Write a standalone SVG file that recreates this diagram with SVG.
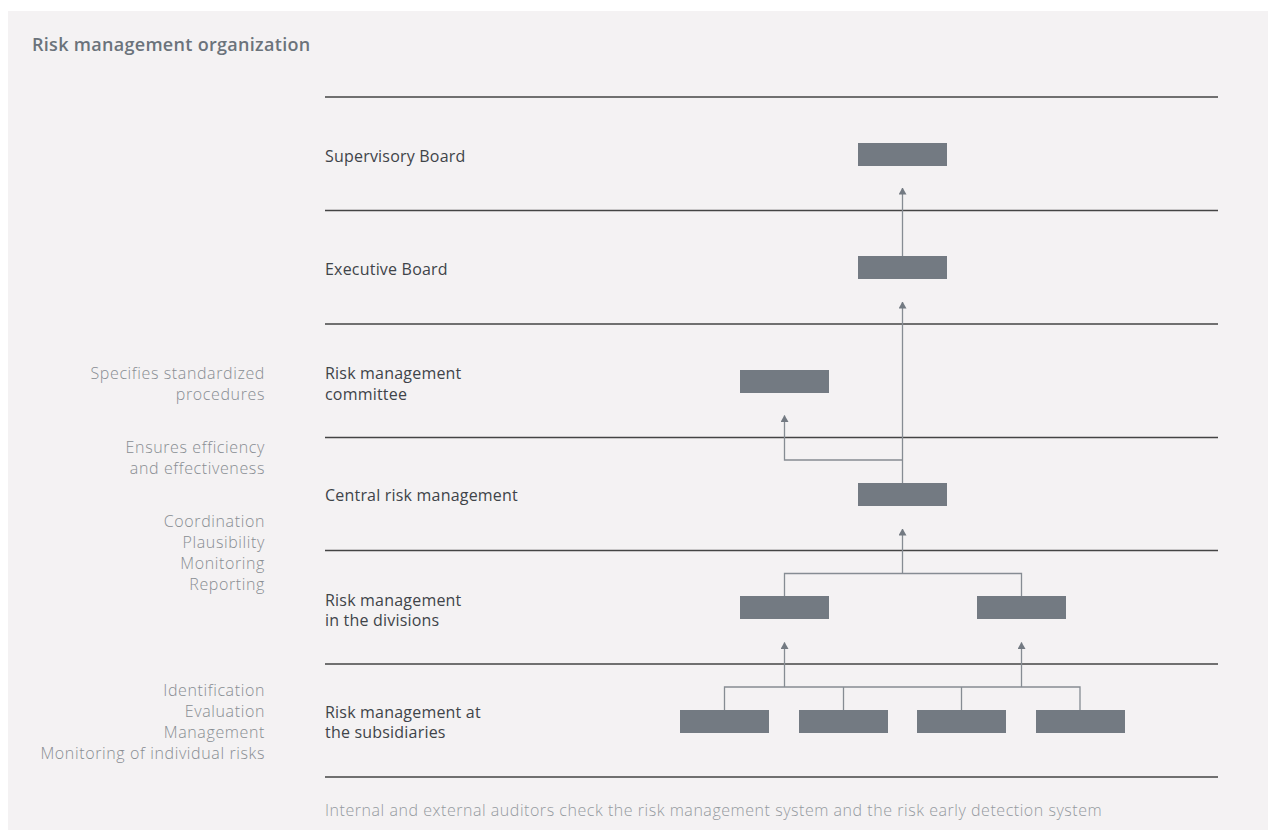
<svg xmlns="http://www.w3.org/2000/svg" width="1268" height="830" viewBox="0 0 1268 830">
<defs>
<marker id="ah" viewBox="0 0 7 8" refX="6.5" refY="4" markerWidth="7" markerHeight="8" markerUnits="userSpaceOnUse" orient="auto">
<path d="M0,0 L7,4 L0,8 Z" fill="#737a82"/>
</marker>
<style>
.title{font-family:"Open Sans","Noto Sans",sans-serif;font-size:18px;font-weight:600;fill:#6b737b;letter-spacing:0.3px}
.lbl{font-family:"Open Sans","Noto Sans",sans-serif;font-size:16px;font-weight:400;fill:#3f4449;letter-spacing:0.2px}
.side{font-family:"Open Sans","Noto Sans",sans-serif;font-size:16px;font-weight:300;fill:#888d92;text-anchor:end;letter-spacing:0.62px}
.foot{font-family:"Open Sans","Noto Sans",sans-serif;font-size:16px;font-weight:300;fill:#949a9f;letter-spacing:0.54px}
.sep{stroke:#444;stroke-width:1.3;fill:none}
.box{fill:#737a82}
.con{stroke:#868c93;stroke-width:1.3;fill:none}
.arr{stroke:#868c93;stroke-width:1.3;fill:none;marker-end:url(#ah)}
</style>
</defs>
<rect x="8" y="11" width="1260" height="819" fill="#f4f2f3"/>
<text class="title" x="32" y="51">Risk management organization</text>
<g id="separators">
<line class="sep" x1="325" y1="97" x2="1218" y2="97"/>
<line class="sep" x1="325" y1="210.5" x2="1218" y2="210.5"/>
<line class="sep" x1="325" y1="324" x2="1218" y2="324"/>
<line class="sep" x1="325" y1="437.5" x2="1218" y2="437.5"/>
<line class="sep" x1="325" y1="550.5" x2="1218" y2="550.5"/>
<line class="sep" x1="325" y1="664" x2="1218" y2="664"/>
<line class="sep" x1="325" y1="777" x2="1218" y2="777"/>
</g>
<g id="labels">
<text class="lbl" x="325" y="162">Supervisory Board</text>
<text class="lbl" x="325" y="275">Executive Board</text>
<text class="lbl" x="325" y="379">Risk management</text>
<text class="lbl" x="325" y="399.5">committee</text>
<text class="lbl" x="325" y="501">Central risk management</text>
<text class="lbl" x="325" y="605.5">Risk management</text>
<text class="lbl" x="325" y="626">in the divisions</text>
<text class="lbl" x="325" y="717.5">Risk management at</text>
<text class="lbl" x="325" y="738">the subsidiaries</text>
</g>
<g id="side-notes">
<text class="side" x="265" y="379">Specifies standardized</text>
<text class="side" x="265" y="399.5">procedures</text>
<text class="side" x="265" y="453">Ensures efficiency</text>
<text class="side" x="265" y="473.5">and effectiveness</text>
<text class="side" x="265" y="527">Coordination</text>
<text class="side" x="265" y="548">Plausibility</text>
<text class="side" x="265" y="569">Monitoring</text>
<text class="side" x="265" y="590">Reporting</text>
<text class="side" x="265" y="696">Identification</text>
<text class="side" x="265" y="717">Evaluation</text>
<text class="side" x="265" y="738">Management</text>
<text class="side" x="265" y="759">Monitoring of individual risks</text>
</g>
<text class="foot" x="325" y="815.5">Internal and external auditors check the risk management system and the risk early detection system</text>
<g id="connectors">
<line class="arr" x1="902.5" y1="256" x2="902.5" y2="188"/>
<line class="arr" x1="902.5" y1="483" x2="902.5" y2="302"/>
<polyline class="arr" points="902.5,460 784.5,460 784.5,415.5"/>
<polyline class="con" points="784.5,596 784.5,573.5 1021.5,573.5 1021.5,596"/>
<line class="arr" x1="902.5" y1="573.5" x2="902.5" y2="529"/>
<polyline class="con" points="724.5,710 724.5,687 1080,687 1080,710"/>
<line class="con" x1="843.5" y1="687" x2="843.5" y2="710"/>
<line class="con" x1="961.5" y1="687" x2="961.5" y2="710"/>
<line class="arr" x1="784.5" y1="687" x2="784.5" y2="642.5"/>
<line class="arr" x1="1021.5" y1="687" x2="1021.5" y2="642.5"/>
</g>
<g id="node-supervisory"><rect class="box" x="858" y="143" width="89" height="23"/></g>
<g id="node-executive"><rect class="box" x="858" y="256" width="89" height="23"/></g>
<g id="node-committee"><rect class="box" x="740" y="370" width="89" height="23"/></g>
<g id="node-central"><rect class="box" x="858" y="483" width="89" height="23"/></g>
<g id="node-division-1"><rect class="box" x="740" y="596" width="89" height="23"/></g>
<g id="node-division-2"><rect class="box" x="977" y="596" width="89" height="23"/></g>
<g id="node-subsidiary-1"><rect class="box" x="680" y="710" width="89" height="23"/></g>
<g id="node-subsidiary-2"><rect class="box" x="799" y="710" width="89" height="23"/></g>
<g id="node-subsidiary-3"><rect class="box" x="917" y="710" width="89" height="23"/></g>
<g id="node-subsidiary-4"><rect class="box" x="1036" y="710" width="89" height="23"/></g>
</svg>
